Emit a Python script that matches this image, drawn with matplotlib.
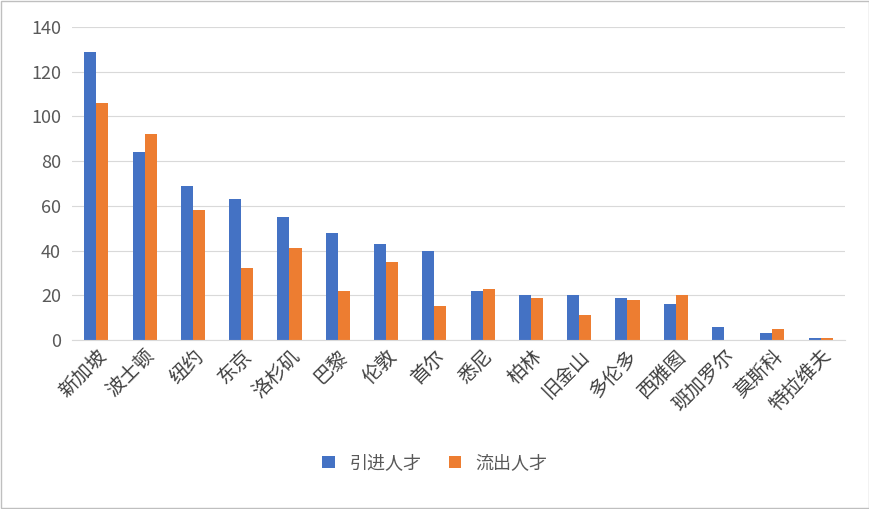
import matplotlib
matplotlib.use("Agg")
import matplotlib.pyplot as plt
from matplotlib import font_manager as fm
import numpy as np

cjk = None
for f in fm.findSystemFonts():
    n = f.lower()
    if "cjk" in n and ("sc" in n or "ttc" in n or "otc" in n):
        cjk = f
        if "sc" in n.split("/")[-1]:
            break
if cjk:
    fm.fontManager.addfont(cjk)
    fam = fm.FontProperties(fname=cjk).get_name()
else:
    fam = "Noto Sans CJK SC"
plt.rcParams["font.family"] = [fam, "DejaVu Sans"]

cities = ["新加坡","波士顿","纽约","东京","洛杉矶","巴黎","伦敦","首尔","悉尼","柏林","旧金山","多伦多","西雅图","班加罗尔","莫斯科","特拉维夫"]
inflow = [129,84,69,63,55,48,43,40,22,20,20,19,16,6,3,1]
outflow = [106,92,58,32,41,22,35,15,23,19,11,18,20,0,5,1]
yticks = [0,20,40,60,80,100,120,140]

fig = plt.figure(figsize=(8.7,5.09), dpi=100)
ax = fig.add_axes([0.083,0.332,0.888,0.615])
x = np.arange(len(cities))
w = 0.25
ax.bar(x-w/2, inflow, w, color="#4472C4", label="引进人才")
ax.bar(x+w/2, outflow, w, color="#ED7D31", label="流出人才")
ax.set_xlim(-0.5, len(cities)-0.5)
ax.set_ylim(0,140)
ax.set_yticks(yticks)
ax.tick_params(axis="y", labelsize=13, colors="#595959", length=0, pad=8)
ax.set_xticks(x)
ax.set_xticklabels(cities, rotation=45, ha="right", rotation_mode="anchor", fontsize=14, color="#404040")
ax.tick_params(axis="x", length=0, pad=4)
ax.grid(axis="y", color="#D9D9D9", linewidth=0.8)
ax.set_axisbelow(True)
for s in ["top","right","left"]:
    ax.spines[s].set_visible(False)
ax.spines["bottom"].set_color("#D9D9D9")
fig.legend(loc="lower center", bbox_to_anchor=(0.5,0.04), ncol=2, frameon=False, fontsize=13,
           handlelength=0.7, handleheight=0.7, columnspacing=1.5, labelcolor="#595959")
fig.patches.append(matplotlib.patches.Rectangle((0.001,0.001),0.998,0.997, transform=fig.transFigure,
                   fill=False, edgecolor="#BFBFBF", linewidth=1))
fig.savefig("out.png", dpi=100)
